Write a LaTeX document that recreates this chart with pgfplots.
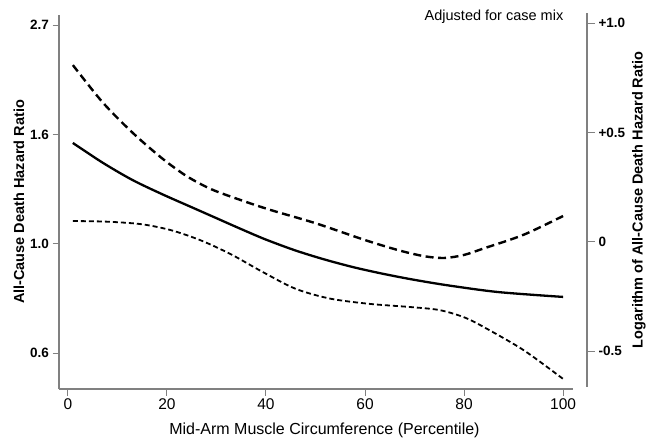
\documentclass[border=0pt]{standalone}
\usepackage{fontspec}
\setmainfont{Liberation Sans}
\usepackage{pgfplots}
\usepackage{pgfplotstable}
\pgfplotsset{compat=1.18}

% log hazard ratio, estimate and 95% band
\pgfplotstableread{
x     y
1     0.462
7     0.372
13    0.293
19    0.228
25    0.168
30    0.118
35    0.068
40    0.020
46   -0.030
52   -0.072
58   -0.108
64   -0.138
70   -0.164
77   -0.190
87   -0.220
100  -0.242
}\esttab
\pgfplotstableread{
x     y
1     0.818
7     0.648
13    0.510
19    0.392
24    0.310
29    0.250
35    0.200
41    0.155
50    0.095
60    0.018
67   -0.030
72   -0.056
76   -0.064
80   -0.050
84   -0.020
92    0.042
100   0.128
}\uptab
\pgfplotstableread{
x     y
1     0.105
8     0.102
15    0.090
21    0.062
27    0.015
33   -0.048
39.5 -0.130
46   -0.205
53   -0.250
61   -0.274
69   -0.288
75   -0.302
80   -0.335
84   -0.380
92   -0.485
100  -0.617
}\lowtab

\newcommand{\tickfont}{\fontsize{13.5bp}{15bp}\selectfont\bfseries}
\newcommand{\labfont}{\fontsize{14.5bp}{16bp}\selectfont\bfseries}

\begin{document}
\begin{tikzpicture}
\path[use as bounding box] (0,0) rectangle (661bp,441bp);
\begin{axis}[
  at={(59bp,52bp)}, anchor=south west,
  width=514bp, height=374bp, scale only axis,
  xmin=-1.8, xmax=102, ymin=-0.663, ymax=1.047,
  axis x line*=bottom, axis y line*=left,
  axis line style={gray, line width=1.2bp},
  tick style={gray, line width=1bp},
  tick align=outside, major tick length=6.5bp,
  xtick={0,20,40,60,80,100}, xticklabels={0,20,40,60,80,100},
  ytick={-0.5,0,0.5,1}, yticklabels={0.6,1.0,1.6,2.7},
  xticklabel style={font=\fontsize{15.5bp}{17bp}\selectfont, anchor=north},
  yticklabel style={font=\tickfont, anchor=east},
  xlabel={Mid-Arm Muscle Circumference (Percentile)},
  xlabel style={font=\fontsize{16bp}{18bp}\selectfont, at={(axis description cs:0.5165,0)}, anchor=base, yshift=-45bp},
  ylabel={All-Cause Death Hazard Ratio},
  ylabel style={font=\labfont, at={(axis description cs:-0.078,0.5)}, anchor=center},
  clip=false,
]
\addplot[black, line width=2.3bp, smooth] table {\esttab};
\addplot[black, line width=2.4bp, smooth, dash pattern=on 8bp off 4.5bp] table {\uptab};
\addplot[black, line width=1.8bp, smooth, dash pattern=on 5bp off 3bp] table {\lowtab};
\node[anchor=base east, font=\fontsize{14.5bp}{16bp}\selectfont] at (axis description cs:0.988,0.984) {Adjusted for case mix};
\end{axis}
\begin{axis}[
  at={(73bp,54bp)}, anchor=south west,
  width=514bp, height=374bp, scale only axis,
  xmin=-1.8, xmax=102, ymin=-0.663, ymax=1.047,
  axis x line=none, axis y line*=right,
  axis line style={gray, line width=1.2bp},
  tick style={gray, line width=1bp},
  tick align=outside, major tick length=8bp,
  ytick={-0.5,0,0.5,1}, yticklabels={-0.5,0,+0.5,+1.0},
  yticklabel style={font=\tickfont, anchor=west},
  ylabel={Logarithm of All-Cause Death Hazard Ratio},
  ylabel style={font=\labfont, at={(axis description cs:1.101,0.5)}, anchor=center},
]
\addplot[draw=none] coordinates {(0,0)};
\end{axis}
\end{tikzpicture}
\end{document}
